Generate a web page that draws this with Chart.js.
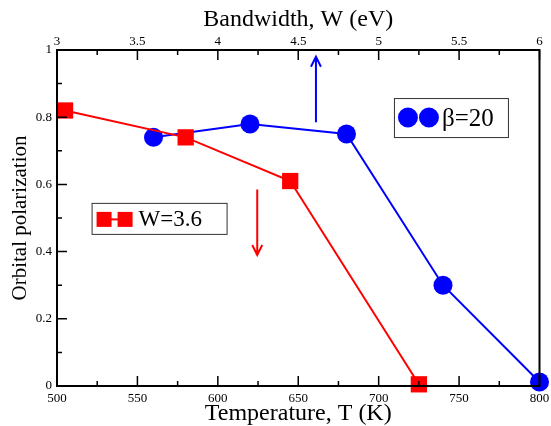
<!DOCTYPE html>
<html>
<head>
<meta charset="utf-8">
<script src="https://cdn.jsdelivr.net/npm/chart.js@4.4.1/dist/chart.umd.min.js"></script>
<style>
  body { margin: 0; background: #fff; }
  #wrap { width: 551px; height: 426px; }
</style>
</head>
<body>
<div id="wrap"><canvas id="chart"></canvas></div>
<script>
// red series: polarization vs temperature at W=3.6 (bottom axis)
const temperatures = [505, 580, 645, 725];
const polarizationT = [0.82, 0.74, 0.61, 0.005];
// blue series: polarization vs bandwidth at beta=20 (top axis)
const bandwidths = [3.6, 4.2, 4.8, 5.4, 6.0];
const polarizationW = [0.74, 0.78, 0.75, 0.30, 0.012];

const serif = "'Liberation Serif', 'DejaVu Serif', serif";

// inward ticks, frame, arrows and the two boxed labels
const decorations = {
  id: 'decorations',
  afterDatasetsDraw(chart) {
    const { ctx, chartArea: a, scales } = chart;
    const x = scales.x, x2 = scales.x2, y = scales.y;
    ctx.save();
    ctx.strokeStyle = '#000';
    ctx.lineWidth = 1.5;
    ctx.beginPath();
    for (let t = 500; t <= 800; t += 25) {
      const px = x.getPixelForValue(t), len = t % 50 === 0 ? 10 : 5;
      ctx.moveTo(px, a.bottom); ctx.lineTo(px, a.bottom - len);
    }
    for (let w = 3; w <= 6.001; w += 0.25) {
      const px = x2.getPixelForValue(w), len = Math.abs(w * 2 - Math.round(w * 2)) < 1e-6 ? 10 : 5;
      ctx.moveTo(px, a.top); ctx.lineTo(px, a.top + len);
    }
    for (let i = 0; i <= 10; i++) {
      const py = y.getPixelForValue(i / 10), len = i % 2 === 0 ? 10 : 5;
      ctx.moveTo(a.left, py); ctx.lineTo(a.left + len, py);
    }
    ctx.stroke();
    ctx.lineWidth = 2;
    ctx.strokeRect(a.left, a.top, a.right - a.left, a.bottom - a.top);

    // arrows
    function arrow(px, y0, y1, color) {
      ctx.strokeStyle = color;
      ctx.lineWidth = 2;
      const dir = y1 < y0 ? 1 : -1;
      ctx.beginPath();
      ctx.moveTo(px, y0); ctx.lineTo(px, y1);
      ctx.moveTo(px - 5, y1 + dir * 10); ctx.lineTo(px, y1); ctx.lineTo(px + 5, y1 + dir * 10);
      ctx.stroke();
    }
    arrow(x2.getPixelForValue(4.61), y.getPixelForValue(0.785), y.getPixelForValue(0.98), '#0000ff');
    arrow(x.getPixelForValue(624.5), y.getPixelForValue(0.585), y.getPixelForValue(0.39), '#ff0000');

    // beta=20 box
    let bx = x.getPixelForValue(709.5), by = y.getPixelForValue(0.857);
    ctx.lineWidth = 1;
    ctx.strokeStyle = '#333';
    ctx.fillStyle = '#fff';
    ctx.fillRect(bx, by, 114, 39);
    ctx.strokeRect(bx + 0.5, by + 0.5, 114, 39);
    ctx.fillStyle = '#0000ff';
    ctx.beginPath();
    ctx.arc(bx + 14, by + 19.5, 10, 0, Math.PI * 2);
    ctx.arc(bx + 35, by + 19.5, 10, 0, Math.PI * 2);
    ctx.fill();
    ctx.fillStyle = '#000';
    ctx.font = '25px ' + serif;
    ctx.textBaseline = 'middle';
    ctx.fillText('\u03b2=20', bx + 48, by + 21);

    // W=3.6 box
    bx = x.getPixelForValue(521.5); by = y.getPixelForValue(0.545);
    ctx.fillStyle = '#fff';
    ctx.fillRect(bx, by, 135, 31);
    ctx.strokeRect(bx + 0.5, by + 0.5, 135, 31);
    ctx.fillStyle = '#ff0000';
    ctx.fillRect(bx + 5, by + 9, 15, 15);
    ctx.fillRect(bx + 26, by + 9, 15, 15);
    ctx.fillRect(bx + 19, by + 15.5, 8, 2);
    ctx.fillStyle = '#000';
    ctx.font = '23px ' + serif;
    ctx.fillText('W=3.6', bx + 47, by + 17);
    ctx.restore();
  }
};

const tickFont = { family: serif, size: 13 };
const titleFont = { family: serif, size: 24, lineHeight: 1.05 };
const plain = (v) => String(v);
// fixed axis sizes, and no extra room for labels hanging past the ends
const fitX = (h) => (s) => { s.height = h; s.paddingLeft = 0; s.paddingRight = 0; };

new Chart(document.getElementById('chart'), {
  type: 'scatter',
  data: {
    datasets: [
      {
        label: 'W=3.6',
        data: temperatures.map((t, i) => ({ x: t, y: polarizationT[i] })),
        xAxisID: 'x',
        showLine: true,
        borderColor: '#ff0000',
        backgroundColor: '#ff0000',
        borderWidth: 2,
        pointStyle: 'rect',
        pointRadius: 11.5,
        pointHoverRadius: 11.5,
        pointBorderWidth: 0,
      },
      {
        label: '\u03b2=20',
        data: bandwidths.map((w, i) => ({ x: w, y: polarizationW[i] })),
        xAxisID: 'x2',
        showLine: true,
        borderColor: '#0000ff',
        backgroundColor: '#0000ff',
        borderWidth: 2,
        pointStyle: 'circle',
        pointRadius: 9.5,
        pointHoverRadius: 9.5,
        pointBorderWidth: 0,
      },
    ],
  },
  options: {
    responsive: true,
    maintainAspectRatio: false,
    animation: false,
    clip: false,
    layout: { padding: { right: 10 } },
    plugins: {
      legend: { display: false },
      tooltip: { enabled: false },
    },
    scales: {
      x: {
        type: 'linear',
        position: 'bottom',
        min: 500,
        max: 800,
        afterFit: fitX(40),
        ticks: { stepSize: 50, color: '#000', font: tickFont, padding: 5, maxRotation: 0, callback: plain },
        grid: { display: false, drawTicks: false },
        border: { display: false },
        title: { display: true, text: 'Temperature, T (K)', color: '#000', font: titleFont, padding: 0 },
      },
      x2: {
        type: 'linear',
        position: 'top',
        min: 3,
        max: 6,
        afterFit: fitX(50),
        ticks: { stepSize: 0.5, color: '#000', font: tickFont, padding: 1, maxRotation: 0, callback: plain },
        grid: { display: false, drawTicks: false },
        border: { display: false },
        title: { display: true, text: 'Bandwidth, W (eV)', color: '#000', font: titleFont, padding: { top: 7 } },
      },
      y: {
        min: 0,
        max: 1,
        afterFit: (s) => { s.width = 57; s.paddingTop = 0; s.paddingBottom = 0; },
        ticks: { stepSize: 0.2, color: '#000', font: tickFont, padding: 5, callback: plain },
        grid: { display: false, drawTicks: false },
        border: { display: false },
        title: { display: true, text: 'Orbital polarization', color: '#000', font: { family: serif, size: 21 }, padding: { top: 8 } },
      },
    },
  },
  plugins: [decorations],
});
</script>
</body>
</html>
